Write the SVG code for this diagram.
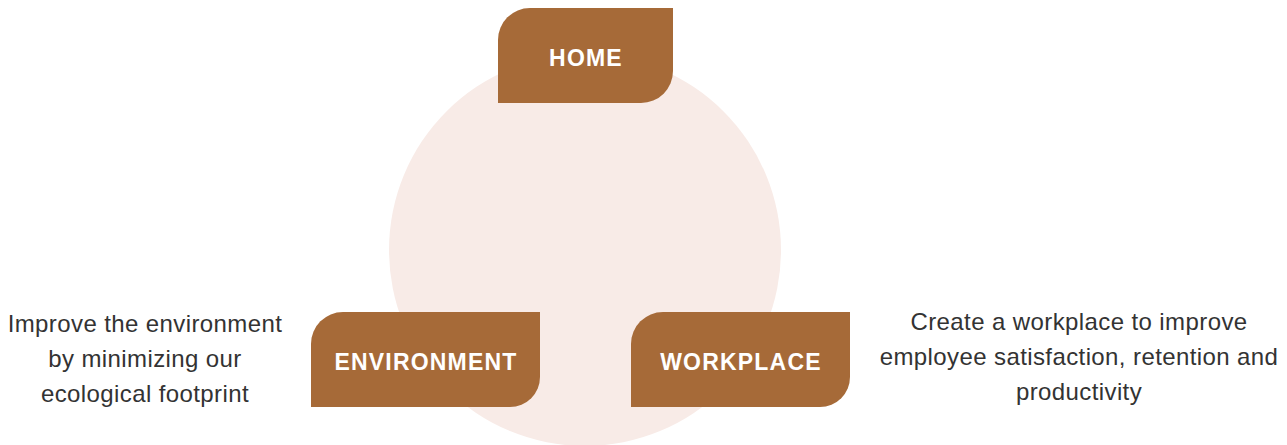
<svg xmlns="http://www.w3.org/2000/svg" width="1287" height="445" viewBox="0 0 1287 445">
<style>
.box{fill:#A66A38}
.lbl{font-family:"Liberation Sans",Arial,sans-serif;font-weight:bold;font-size:23px;letter-spacing:1.2px;fill:#ffffff;text-anchor:middle}
.desc{font-family:"Liberation Sans",Arial,sans-serif;font-size:24px;letter-spacing:0.4px;fill:#333333;text-anchor:middle}
</style>
<rect width="1287" height="445" fill="#ffffff"/>
<circle cx="585" cy="250" r="196" fill="#F8EBE7"/>
<g id="home">
<path class="box" d="M530,8 H673 V71 A32,32 0 0 1 641,103 H498 V40 A32,32 0 0 1 530,8 Z"/>
<text class="lbl" x="586" y="66">HOME</text>
</g>
<g id="environment">
<path class="box" d="M343,312 H540 V377 A30,30 0 0 1 510,407 H311 V344 A32,32 0 0 1 343,312 Z"/>
<text class="lbl" x="426" y="370">ENVIRONMENT</text>
<text class="desc" x="145" y="332">Improve the environment</text>
<text class="desc" x="145" y="367">by minimizing our</text>
<text class="desc" x="145" y="402">ecological footprint</text>
</g>
<g id="workplace">
<path class="box" d="M663,312 H850 V377 A30,30 0 0 1 820,407 H631 V344 A32,32 0 0 1 663,312 Z"/>
<text class="lbl" x="741" y="370">WORKPLACE</text>
<text class="desc" x="1079" y="330">Create a workplace to improve</text>
<text class="desc" x="1079" y="365">employee satisfaction, retention and</text>
<text class="desc" x="1079" y="400">productivity</text>
</g>
<g id="connectors"></g>
</svg>
